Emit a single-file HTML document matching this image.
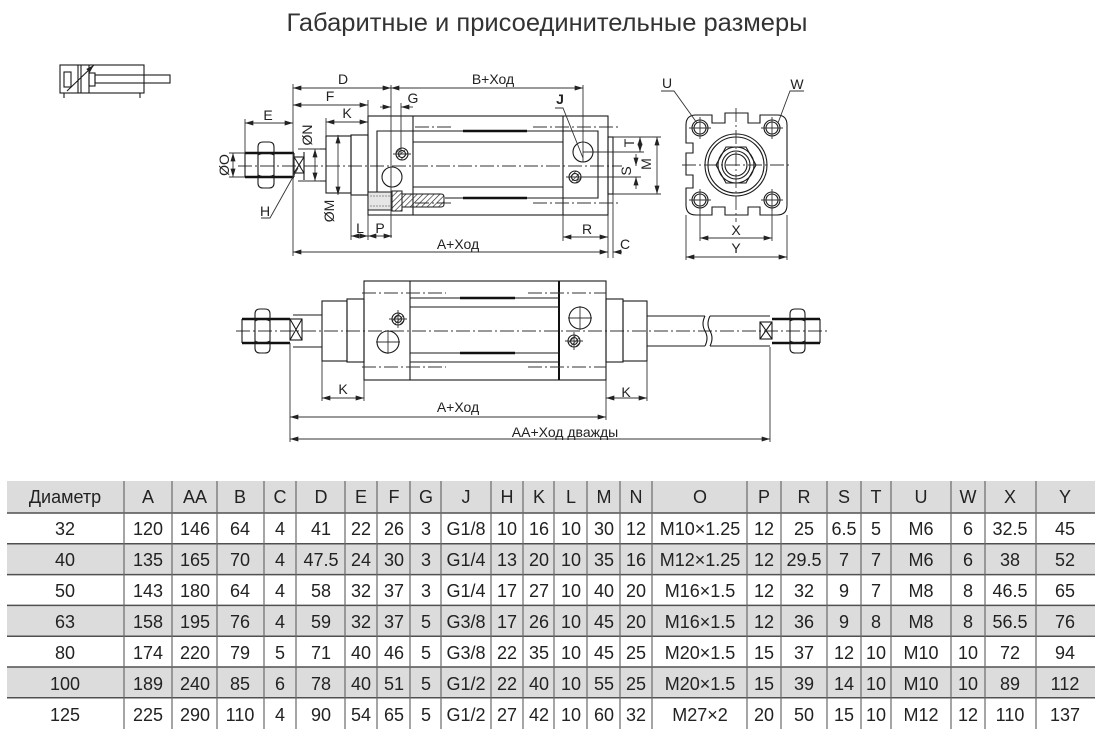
<!DOCTYPE html>
<html><head><meta charset="utf-8"><style>
html,body{margin:0;padding:0;background:#fff;}
svg{display:block;}
.l{stroke:#1a1a1a;stroke-width:1.1;fill:none}
.k{stroke:#111;stroke-width:2.6;fill:none}
.d{stroke:#333;stroke-width:0.9;fill:none}
.c{stroke:#333;stroke-width:0.9;stroke-dasharray:14 3 2 3;fill:none}
.t{font-size:14px;fill:#222;text-anchor:middle}
.tb{font-size:18px;fill:#222;text-anchor:middle}
</style></head><body>
<svg width="1096" height="742" viewBox="0 0 1096 742" xmlns="http://www.w3.org/2000/svg" font-family="'Liberation Sans', Arial, sans-serif">
<defs>
<marker id="a" viewBox="0 0 10 6" refX="10" refY="3" markerWidth="9" markerHeight="5" markerUnits="userSpaceOnUse" orient="auto-start-reverse"><path d="M0,0 L10,3 L0,6 z" fill="#222"/></marker>
<pattern id="h" width="4" height="4" patternUnits="userSpaceOnUse" patternTransform="rotate(45)"><line x1="0" y1="0" x2="0" y2="4" stroke="#222" stroke-width="1.3"/></pattern>
</defs>

<!-- Title -->
<text x="547" y="31" font-size="25" fill="#333" text-anchor="middle" textLength="521" lengthAdjust="spacingAndGlyphs">Габаритные и присоединительные размеры</text>

<!-- small symbol -->
<rect class="l" x="60" y="65" width="84" height="28"/>
<rect class="l" x="64" y="72" width="7" height="15"/>
<path class="l" d="M78,65 V93 M81,65 V93 M89,65 V93"/>
<rect class="l" x="89" y="73" width="6" height="13"/>
<rect class="l" x="95" y="75" width="75" height="8"/>
<line class="l" x1="67" y1="91" x2="94" y2="65" marker-end="url(#a)"/>
<path class="l" d="M64,93 V98 M140,93 V98"/>

<!-- ============ VIEW 1 ============ -->
<line class="c" x1="238" y1="166" x2="622" y2="166"/>
<!-- thread -->
<line class="l" x1="245" y1="153" x2="245" y2="177"/>
<line class="k" x1="245" y1="153" x2="294" y2="153"/>
<line class="k" x1="245" y1="177" x2="294" y2="177"/>
<!-- nut -->
<path class="l" d="M258,147 Q258,142 263,142 H269 Q274,142 274,147 V183 Q274,188 269,188 H263 Q258,188 258,183 Z"/>
<path class="l" d="M258,155 Q266,151 274,155 M258,175 Q266,179 274,175"/>
<!-- wrench flats -->
<rect class="l" x="294" y="157" width="10" height="16"/>
<path class="l" d="M294,157 L304,173 M304,157 L294,173"/>
<path class="l" d="M294,153 V157 M294,173 V177"/>
<!-- rod -->
<path class="l" d="M298,149 H326 M298,181 H326 M304,152 V180"/>
<!-- gland -->
<rect class="l" x="326" y="136" width="25" height="57"/>
<rect class="l" x="351" y="135" width="17" height="60"/>
<!-- body -->
<rect class="l" x="368" y="116" width="240" height="99"/>
<path class="l" d="M413,116 V215 M563,116 V215"/>
<path class="l" d="M377,192 V131 H598 V198 H445"/>
<path class="l" d="M413,142 H563 M413,187 H563"/>
<path class="k" d="M463,131 H527 M463,198 H527" stroke-width="2.2"/>
<path class="c" d="M415,127 H452 M533,127 H618 M415,203 H452 M533,203 H618"/>
<!-- C part -->
<rect class="l" x="608" y="137" width="5" height="57"/>
<!-- tie rod -->
<rect x="368" y="192" width="24" height="18" fill="#e6e6e6" stroke="#1a1a1a" stroke-width="1"/>
<path d="M370,196 H390 M370,206 H390" stroke="#777" stroke-width="0.8" stroke-dasharray="2 1"/>
<rect x="392" y="191" width="10" height="20" fill="url(#h)" stroke="#1a1a1a" stroke-width="1"/>
<path d="M402,194 H441 Q444,194 444,197 V204 Q444,207 441,207 H402 Z" fill="url(#h)" stroke="#1a1a1a" stroke-width="1"/>
<!-- ports -->
<circle class="l" cx="392" cy="177" r="10" fill="#fff"/>
<circle cx="402" cy="154" r="6" fill="url(#h)" stroke="#1a1a1a" stroke-width="1.1"/>
<circle class="l" cx="402" cy="154" r="3.5"/>
<path class="d" d="M393,154 H411"/>
<circle class="l" cx="583" cy="152" r="10" fill="#fff"/>
<circle cx="575" cy="177" r="6" fill="url(#h)" stroke="#1a1a1a" stroke-width="1.1"/>
<circle class="l" cx="575" cy="177" r="3.5"/>
<path class="d" d="M566,177 H584"/>
<!-- ext lines -->
<path class="d" d="M293,84 V256 M391,85 V238 M401,103 V154 M583,85 V162 M368,100 V116 M326,118 V136 M351,195 V240 M368,215 V240 M563,215 V241 M608,215 V258 M613,194 V258 M245,119 V153 M229,153 H245 M229,177 H245 M298,149 H320 M298,181 H320 M613,137 H661 M613,194 H661 M583,152 H644 M575,177 H641"/>
<!-- dims -->
<line class="d" x1="293" y1="88" x2="391" y2="88" marker-start="url(#a)" marker-end="url(#a)"/>
<line class="d" x1="391" y1="88" x2="583" y2="88" marker-start="url(#a)" marker-end="url(#a)"/>
<line class="d" x1="293" y1="105" x2="368" y2="105" marker-start="url(#a)" marker-end="url(#a)"/>
<line class="d" x1="326" y1="122" x2="368" y2="122" marker-start="url(#a)" marker-end="url(#a)"/>
<line class="d" x1="380" y1="107" x2="391" y2="107" marker-end="url(#a)"/>
<line class="d" x1="413" y1="107" x2="401" y2="107" marker-end="url(#a)"/>
<line class="d" x1="245" y1="123" x2="293" y2="123" marker-start="url(#a)" marker-end="url(#a)"/>
<line class="d" x1="233" y1="153" x2="233" y2="177" marker-start="url(#a)" marker-end="url(#a)"/>
<line class="d" x1="315" y1="149" x2="315" y2="181" marker-start="url(#a)" marker-end="url(#a)"/>
<line class="d" x1="338" y1="135" x2="338" y2="195" marker-start="url(#a)" marker-end="url(#a)"/>
<line class="d" x1="351" y1="236" x2="368" y2="236" marker-start="url(#a)" marker-end="url(#a)"/>
<line class="d" x1="368" y1="236" x2="392" y2="236" marker-start="url(#a)" marker-end="url(#a)"/>
<line class="d" x1="563" y1="237" x2="608" y2="237" marker-start="url(#a)" marker-end="url(#a)"/>
<line class="d" x1="293" y1="252" x2="608" y2="252" marker-start="url(#a)" marker-end="url(#a)"/>
<line class="d" x1="622" y1="252" x2="613" y2="252" marker-end="url(#a)"/>
<line class="d" x1="640" y1="137" x2="640" y2="152" marker-start="url(#a)" marker-end="url(#a)"/>
<line class="d" x1="636" y1="154" x2="636" y2="166" marker-end="url(#a)"/>
<line class="d" x1="636" y1="189" x2="636" y2="177" marker-end="url(#a)"/>
<line class="d" x1="657" y1="137" x2="657" y2="194" marker-start="url(#a)" marker-end="url(#a)"/>
<!-- leaders -->
<path class="d" d="M555,108 H563 L583,158"/>
<path class="d" d="M261,218 H270 L298,168"/>
<!-- labels -->
<text class="t" x="343" y="84">D</text>
<text class="t" x="493" y="84">B+Ход</text>
<text class="t" x="330" y="101">F</text>
<text class="t" x="347" y="118">K</text>
<text class="t" x="413" y="103">G</text>
<text class="t" x="268" y="120">E</text>
<text class="t" transform="translate(312,135) rotate(-90)">ØN</text>
<text class="t" transform="translate(229,165) rotate(-90)">ØO</text>
<text class="t" transform="translate(334,211) rotate(-90)">ØM</text>
<text class="t" x="265" y="216">H</text>
<text class="t" x="360" y="233">L</text>
<text class="t" x="380" y="233">P</text>
<text class="t" x="587" y="234">R</text>
<text class="t" x="458" y="249">A+Ход</text>
<text class="t" x="625" y="249">C</text>
<text class="t" x="560" y="104" font-weight="bold">J</text>
<text class="t" transform="translate(634,143) rotate(-90)">T</text>
<text class="t" transform="translate(631,171) rotate(-90)">S</text>
<text class="t" transform="translate(651,164) rotate(-90)">M</text>

<!-- ============ END VIEW ============ -->
<path class="l" d="M686,125 Q686,115 696,115 H712 V123 H725 V113 H748 V123 H760 V115 H777 Q787,115 787,125 V205 Q787,215 777,215 H760 V207 H748 V215 H725 V207 H712 V215 H696 Q686,215 686,205 V188 H693 V175 H686 V153 H693 V143 H686 Z"/>
<g class="l">
<circle cx="700" cy="128" r="8"/><circle cx="700" cy="128" r="6"/>
<circle cx="772" cy="128" r="8"/><circle cx="772" cy="128" r="6"/>
<circle cx="700" cy="200" r="8"/><circle cx="700" cy="200" r="6"/>
<circle cx="772" cy="200" r="8"/><circle cx="772" cy="200" r="6"/>
<circle cx="736" cy="165" r="31"/><circle cx="736" cy="165" r="28"/>
<path d="M716,165 L726,147 H746 L756,165 L746,183 H726 Z"/>
<circle cx="736" cy="165" r="18"/>
<circle cx="736" cy="165" r="14"/><circle cx="736" cy="165" r="11"/>
</g>
<path class="d" d="M689,128 H711 M700,117 V139 M761,128 H783 M772,117 V139 M689,200 H711 M700,189 V211 M761,200 H783 M772,189 V211"/>
<path class="c" d="M682,165 H790 M736,108 V222"/>
<path class="d" d="M700,208 V241 M772,208 V241 M686,215 V260 M787,215 V260"/>
<line class="d" x1="700" y1="238" x2="772" y2="238" marker-start="url(#a)" marker-end="url(#a)"/>
<line class="d" x1="686" y1="257" x2="787" y2="257" marker-start="url(#a)" marker-end="url(#a)"/>
<path class="d" d="M661,91 H674 L697,123"/>
<path class="d" d="M804,91 H790 L778,123"/>
<text class="t" x="736" y="235">X</text>
<text class="t" x="736" y="253">Y</text>
<text class="t" x="667" y="88">U</text>
<text class="t" x="797" y="89">W</text>

<!-- ============ VIEW 2 ============ -->
<line class="c" x1="236" y1="331" x2="830" y2="331"/>
<!-- left thread -->
<line class="l" x1="242" y1="319" x2="242" y2="343"/>
<line class="k" x1="242" y1="319" x2="290" y2="319"/>
<line class="k" x1="242" y1="343" x2="290" y2="343"/>
<path class="l" d="M255,314 Q255,309 260,309 H265 Q270,309 270,314 V348 Q270,353 265,353 H260 Q255,353 255,348 Z"/>
<path class="l" d="M255,321 Q262,317 270,321 M255,341 Q262,345 270,341"/>
<rect class="l" x="290" y="319" width="12" height="21"/>
<path class="l" d="M290,319 L302,340 M302,319 L290,340"/>
<path class="l" d="M293,315 H322 M293,347 H322"/>
<rect class="l" x="322" y="301" width="25" height="60"/>
<rect class="l" x="347" y="299" width="17" height="63"/>
<!-- body -->
<rect class="l" x="364" y="281" width="242" height="99"/>
<path class="l" d="M410,281 V380"/>
<path d="M559,281 V380" stroke="#111" stroke-width="2"/>
<path class="l" d="M410,298 H559 M410,307 H559 M410,353 H559 M410,362 H559"/>
<path class="k" d="M460,298 H515 M460,353 H515 M500,298 H510" stroke-width="2.2"/>
<path class="c" d="M362,293 H446 M528,293 H606 M362,367 H446 M528,367 H606"/>
<!-- rear gland & rod -->
<rect class="l" x="606" y="299" width="17" height="63"/>
<rect class="l" x="623" y="301" width="24" height="60"/>
<path class="l" d="M647,316 H705 M647,346 H705 M710,316 H770 M710,346 H770"/>
<path class="l" d="M705,316 Q701,324 705,331 Q709,338 705,346 M710,316 Q706,324 710,331 Q714,338 710,346"/>
<rect class="l" x="760" y="322" width="12" height="17"/>
<path class="l" d="M760,322 L772,339 M772,322 L760,339"/>
<line class="l" x1="820" y1="319" x2="820" y2="343"/>
<line class="k" x1="772" y1="319" x2="820" y2="319"/>
<line class="k" x1="772" y1="343" x2="820" y2="343"/>
<path class="l" d="M790,314 Q790,309 795,309 H800 Q805,309 805,314 V348 Q805,353 800,353 H795 Q790,353 790,348 Z"/>
<path class="l" d="M790,321 Q797,317 805,321 M790,341 Q797,345 805,341"/>
<!-- ports -->
<circle cx="398" cy="319" r="6" fill="url(#h)" stroke="#1a1a1a" stroke-width="1.1"/>
<circle class="l" cx="398" cy="319" r="3.5"/>
<path class="d" d="M389,319 H407 M398,310 V328"/>
<circle class="l" cx="388" cy="342" r="11" fill="#fff"/>
<path class="d" d="M376,342 H400 M388,330 V354"/>
<circle class="l" cx="580" cy="318" r="11" fill="#fff"/>
<path class="d" d="M568,318 H592 M580,306 V330"/>
<circle cx="574" cy="341" r="6" fill="url(#h)" stroke="#1a1a1a" stroke-width="1.1"/>
<circle class="l" cx="574" cy="341" r="3.5"/>
<path class="d" d="M565,341 H583 M574,332 V350"/>
<!-- ext lines -->
<path class="d" d="M290,343 V442 M322,361 V401 M364,380 V401 M606,380 V420 M647,361 V401 M770,347 V442"/>
<line class="d" x1="322" y1="398" x2="364" y2="398" marker-start="url(#a)" marker-end="url(#a)"/>
<line class="d" x1="606" y1="398" x2="647" y2="398" marker-start="url(#a)" marker-end="url(#a)"/>
<line class="d" x1="290" y1="417" x2="606" y2="417" marker-start="url(#a)" marker-end="url(#a)"/>
<line class="d" x1="290" y1="439" x2="770" y2="439" marker-start="url(#a)" marker-end="url(#a)"/>
<text class="t" x="343" y="394">K</text>
<text class="t" x="626" y="397">K</text>
<text class="t" x="458" y="412">A+Ход</text>
<text class="t" x="565" y="437">AA+Ход дважды</text>

<!-- ============ TABLE ============ -->
<g fill="#dcdcdc">
<rect x="7" y="481" width="1088" height="32"/>
<rect x="7" y="543.8" width="1088" height="30.8"/>
<rect x="7" y="605.4" width="1088" height="30.8"/>
<rect x="7" y="667" width="1088" height="30.8"/>
</g>
<g stroke="#505050" stroke-width="1.5">
<line x1="7" y1="513" x2="1095" y2="513"/>
<line x1="7" y1="543.8" x2="1095" y2="543.8"/>
<line x1="7" y1="574.6" x2="1095" y2="574.6"/>
<line x1="7" y1="605.4" x2="1095" y2="605.4"/>
<line x1="7" y1="636.2" x2="1095" y2="636.2"/>
<line x1="7" y1="667" x2="1095" y2="667"/>
<line x1="7" y1="697.8" x2="1095" y2="697.8"/>
</g>
<g stroke="#6a6a6a" stroke-width="1.2">
<line x1="124" y1="481" x2="124" y2="729"/><line x1="172" y1="481" x2="172" y2="729"/>
<line x1="217" y1="481" x2="217" y2="729"/><line x1="264" y1="481" x2="264" y2="729"/>
<line x1="296" y1="481" x2="296" y2="729"/><line x1="345" y1="481" x2="345" y2="729"/>
<line x1="377" y1="481" x2="377" y2="729"/><line x1="410" y1="481" x2="410" y2="729"/>
<line x1="441" y1="481" x2="441" y2="729"/><line x1="491" y1="481" x2="491" y2="729"/>
<line x1="523" y1="481" x2="523" y2="729"/><line x1="554" y1="481" x2="554" y2="729"/>
<line x1="587" y1="481" x2="587" y2="729"/><line x1="620" y1="481" x2="620" y2="729"/>
<line x1="652" y1="481" x2="652" y2="729"/><line x1="747" y1="481" x2="747" y2="729"/>
<line x1="781" y1="481" x2="781" y2="729"/><line x1="827" y1="481" x2="827" y2="729"/>
<line x1="861" y1="481" x2="861" y2="729"/><line x1="891" y1="481" x2="891" y2="729"/>
<line x1="951" y1="481" x2="951" y2="729"/><line x1="985" y1="481" x2="985" y2="729"/>
<line x1="1036" y1="481" x2="1036" y2="729"/>
</g>
<g class="tb">
<!-- header y=503 -->
<text x="65" y="503">Диаметр</text><text x="148" y="503">A</text><text x="195" y="503">AA</text><text x="240" y="503">B</text><text x="280" y="503">C</text><text x="321" y="503">D</text><text x="361" y="503">E</text><text x="394" y="503">F</text><text x="426" y="503">G</text><text x="466" y="503">J</text><text x="507" y="503">H</text><text x="539" y="503">K</text><text x="571" y="503">L</text><text x="604" y="503">M</text><text x="636" y="503">N</text><text x="700" y="503">O</text><text x="764" y="503">P</text><text x="804" y="503">R</text><text x="844" y="503">S</text><text x="876" y="503">T</text><text x="921" y="503">U</text><text x="968" y="503">W</text><text x="1010" y="503">X</text><text x="1065" y="503">Y</text>
<!-- 32 y=535 -->
<text x="65" y="535">32</text><text x="148" y="535">120</text><text x="195" y="535">146</text><text x="240" y="535">64</text><text x="280" y="535">4</text><text x="321" y="535">41</text><text x="361" y="535">22</text><text x="394" y="535">26</text><text x="426" y="535">3</text><text x="466" y="535">G1/8</text><text x="507" y="535">10</text><text x="539" y="535">16</text><text x="571" y="535">10</text><text x="604" y="535">30</text><text x="636" y="535">12</text><text x="700" y="535">M10×1.25</text><text x="764" y="535">12</text><text x="804" y="535">25</text><text x="844" y="535">6.5</text><text x="876" y="535">5</text><text x="921" y="535">M6</text><text x="968" y="535">6</text><text x="1010" y="535">32.5</text><text x="1065" y="535">45</text>
<!-- 40 y=566 -->
<text x="65" y="566">40</text><text x="148" y="566">135</text><text x="195" y="566">165</text><text x="240" y="566">70</text><text x="280" y="566">4</text><text x="321" y="566">47.5</text><text x="361" y="566">24</text><text x="394" y="566">30</text><text x="426" y="566">3</text><text x="466" y="566">G1/4</text><text x="507" y="566">13</text><text x="539" y="566">20</text><text x="571" y="566">10</text><text x="604" y="566">35</text><text x="636" y="566">16</text><text x="700" y="566">M12×1.25</text><text x="764" y="566">12</text><text x="804" y="566">29.5</text><text x="844" y="566">7</text><text x="876" y="566">7</text><text x="921" y="566">M6</text><text x="968" y="566">6</text><text x="1010" y="566">38</text><text x="1065" y="566">52</text>
<!-- 50 y=597 -->
<text x="65" y="597">50</text><text x="148" y="597">143</text><text x="195" y="597">180</text><text x="240" y="597">64</text><text x="280" y="597">4</text><text x="321" y="597">58</text><text x="361" y="597">32</text><text x="394" y="597">37</text><text x="426" y="597">3</text><text x="466" y="597">G1/4</text><text x="507" y="597">17</text><text x="539" y="597">27</text><text x="571" y="597">10</text><text x="604" y="597">40</text><text x="636" y="597">20</text><text x="700" y="597">M16×1.5</text><text x="764" y="597">12</text><text x="804" y="597">32</text><text x="844" y="597">9</text><text x="876" y="597">7</text><text x="921" y="597">M8</text><text x="968" y="597">8</text><text x="1010" y="597">46.5</text><text x="1065" y="597">65</text>
<!-- 63 y=628 -->
<text x="65" y="628">63</text><text x="148" y="628">158</text><text x="195" y="628">195</text><text x="240" y="628">76</text><text x="280" y="628">4</text><text x="321" y="628">59</text><text x="361" y="628">32</text><text x="394" y="628">37</text><text x="426" y="628">5</text><text x="466" y="628">G3/8</text><text x="507" y="628">17</text><text x="539" y="628">26</text><text x="571" y="628">10</text><text x="604" y="628">45</text><text x="636" y="628">20</text><text x="700" y="628">M16×1.5</text><text x="764" y="628">12</text><text x="804" y="628">36</text><text x="844" y="628">9</text><text x="876" y="628">8</text><text x="921" y="628">M8</text><text x="968" y="628">8</text><text x="1010" y="628">56.5</text><text x="1065" y="628">76</text>
<!-- 80 y=659 -->
<text x="65" y="659">80</text><text x="148" y="659">174</text><text x="195" y="659">220</text><text x="240" y="659">79</text><text x="280" y="659">5</text><text x="321" y="659">71</text><text x="361" y="659">40</text><text x="394" y="659">46</text><text x="426" y="659">5</text><text x="466" y="659">G3/8</text><text x="507" y="659">22</text><text x="539" y="659">35</text><text x="571" y="659">10</text><text x="604" y="659">45</text><text x="636" y="659">25</text><text x="700" y="659">M20×1.5</text><text x="764" y="659">15</text><text x="804" y="659">37</text><text x="844" y="659">12</text><text x="876" y="659">10</text><text x="921" y="659">M10</text><text x="968" y="659">10</text><text x="1010" y="659">72</text><text x="1065" y="659">94</text>
<!-- 100 y=690 -->
<text x="65" y="690">100</text><text x="148" y="690">189</text><text x="195" y="690">240</text><text x="240" y="690">85</text><text x="280" y="690">6</text><text x="321" y="690">78</text><text x="361" y="690">40</text><text x="394" y="690">51</text><text x="426" y="690">5</text><text x="466" y="690">G1/2</text><text x="507" y="690">22</text><text x="539" y="690">40</text><text x="571" y="690">10</text><text x="604" y="690">55</text><text x="636" y="690">25</text><text x="700" y="690">M20×1.5</text><text x="764" y="690">15</text><text x="804" y="690">39</text><text x="844" y="690">14</text><text x="876" y="690">10</text><text x="921" y="690">M10</text><text x="968" y="690">10</text><text x="1010" y="690">89</text><text x="1065" y="690">112</text>
<!-- 125 y=721 -->
<text x="65" y="721">125</text><text x="148" y="721">225</text><text x="195" y="721">290</text><text x="240" y="721">110</text><text x="280" y="721">4</text><text x="321" y="721">90</text><text x="361" y="721">54</text><text x="394" y="721">65</text><text x="426" y="721">5</text><text x="466" y="721">G1/2</text><text x="507" y="721">27</text><text x="539" y="721">42</text><text x="571" y="721">10</text><text x="604" y="721">60</text><text x="636" y="721">32</text><text x="700" y="721">M27×2</text><text x="764" y="721">20</text><text x="804" y="721">50</text><text x="844" y="721">15</text><text x="876" y="721">10</text><text x="921" y="721">M12</text><text x="968" y="721">12</text><text x="1010" y="721">110</text><text x="1065" y="721">137</text>
</g>
</svg>
</body></html>
